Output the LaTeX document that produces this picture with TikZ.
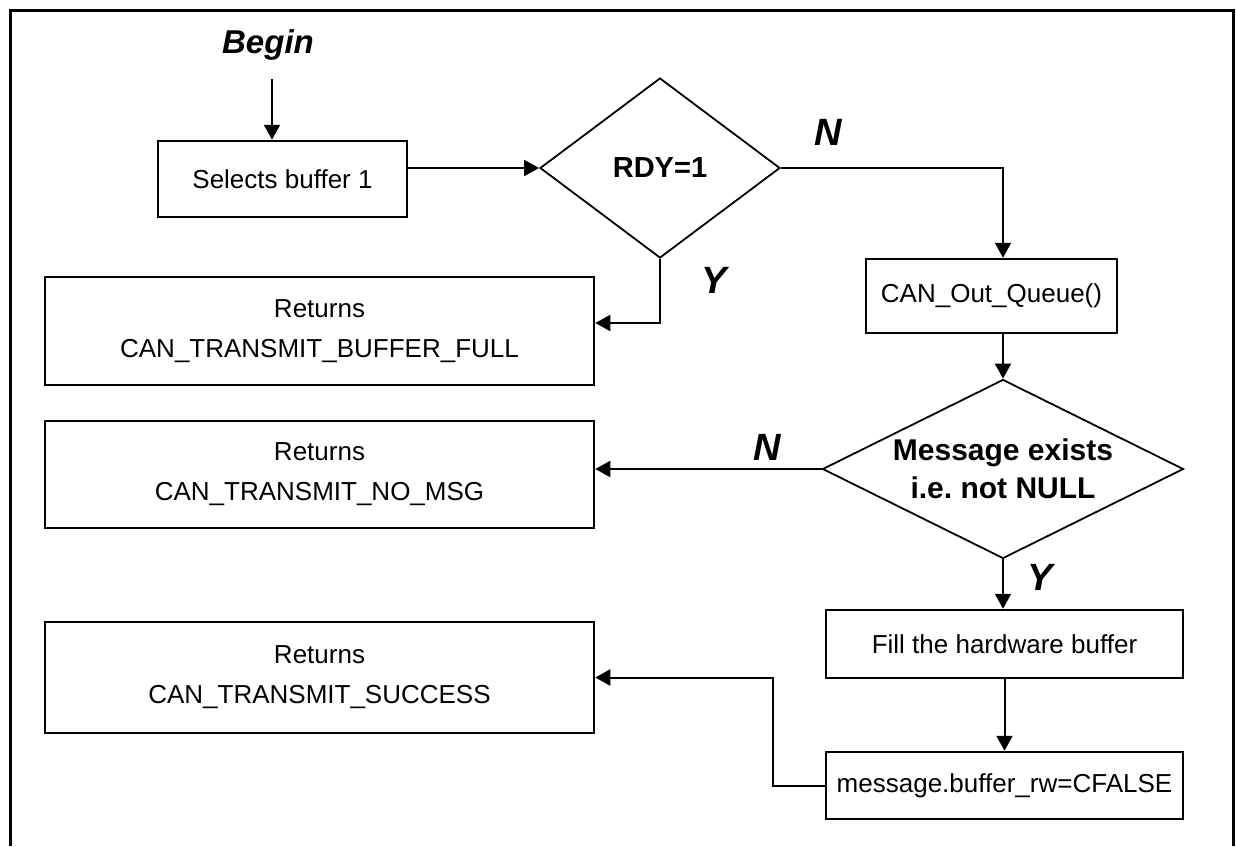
\documentclass[tikz,border=0pt]{standalone}
\usepackage{fontspec}
\setmainfont{Liberation Sans}
\usetikzlibrary{arrows.meta,shapes.geometric}
\tikzset{>={Triangle[length=15pt,width=16pt]}}
\tikzset{box/.style={draw,line width=2.5pt,align=center,inner sep=0pt,font=\fontsize{26}{40}\selectfont},
  decide/.style={draw,diamond,line width=1.8pt,align=center,inner sep=0pt},
  yn/.style={inner sep=0pt,font=\fontsize{38}{38}\selectfont\bfseries\itshape}}
\frenchspacing

\begin{document}
\begin{tikzpicture}[x=1pt,y=-1pt,line width=2pt]
\useasboundingbox (0,0) rectangle (1236,846);
\draw[line width=3pt] (10,846) -- (10,10) -- (1233,10) -- (1233,846);
\node[inner sep=0pt,font=\fontsize{33}{33}\selectfont\bfseries\itshape] (begin) at (268,45) {Begin};
\coordinate (start) at (272,79);
\node[box,minimum width=249pt,minimum height=76pt] (sel) at (282.5,179) {Selects buffer 1};
\node[decide,minimum width=240pt,minimum height=180pt,font=\fontsize{29}{29}\selectfont\bfseries] (rdy) at (660,168) {RDY=1};
\node[box,minimum width=549pt,minimum height=108pt] (full) at (319.5,331) {Returns\\CAN\_TRANSMIT\_BUFFER\_FULL};
\node[box,minimum width=251pt,minimum height=74pt] (queue) at (991.5,296) {CAN\_Out\_Queue()};
\node[decide,shape aspect=2,minimum width=361pt,minimum height=179pt,font=\fontsize{30}{38}\selectfont\bfseries] (msg) at (1003,469) {Message exists\\i.e. not NULL};
\node[box,minimum width=549pt,minimum height=107pt] (nomsg) at (319.5,474.5) {Returns\\CAN\_TRANSMIT\_NO\_MSG};
\node[box,minimum width=357pt,minimum height=68pt] (fill) at (1004.5,644) {Fill the hardware buffer};
\node[box,minimum width=357pt,minimum height=67pt] (rw) at (1004.5,785.5) {message.buffer\_rw=CFALSE};
\node[box,minimum width=549pt,minimum height=111pt] (succ) at (319.5,677.5) {Returns\\CAN\_TRANSMIT\_SUCCESS};
% yes / no marks
\node[yn] (n1) at (828,132) {N};
\node[yn] (y1) at (714,280) {Y};
\node[yn] (n2) at (767,447) {N};
\node[yn] (y2) at (1040,577) {Y};
% flow
\draw[->] (start) -- (start |- sel.north);
\draw[->] (rdy.west -| sel.east) -- (rdy.west);
\coordinate (qin) at ([xshift=11.5pt]queue.north);
\draw[->] (rdy.east) -| (qin);
\draw[->] (rdy.south) |- ([yshift=8pt]full.east);
\draw[->] ([xshift=11.5pt]queue.south) -- (msg.north);
\draw[->] (msg.west) -- (msg.west -| nomsg.east);
\draw[->] (msg.south) -- (msg.south |- fill.north);
\draw[->] (fill.south) -- (rw.north);
\coordinate (turn) at (773,0);
\draw[->] (rw.west) -| (turn |- succ.east) -- (succ.east);
\end{tikzpicture}
\end{document}
